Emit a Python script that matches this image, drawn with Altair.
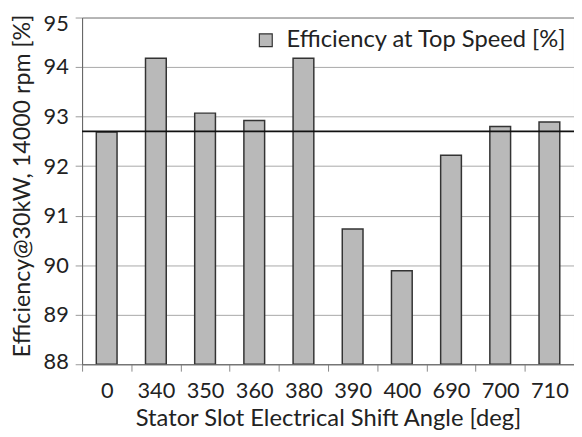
import altair as alt
import pandas as pd

angles = ["0", "340", "350", "360", "380", "390", "400", "690", "700", "710"]
efficiency = [92.69, 94.18, 93.07, 92.92, 94.18, 90.73, 89.89, 92.22, 92.80, 92.89]
baseline = [92.7]
series_name = "Efficiency at Top Speed [%]"

df = pd.DataFrame({"angle": angles, "eff": efficiency, "series": series_name})
ref = pd.DataFrame({"y": baseline})

FONT = "Lato"

bars = alt.Chart(df).mark_bar(
    stroke="#333333", strokeWidth=1.5, width=21, clip=True
).encode(
    x=alt.X("angle:N", sort=angles,
            scale=alt.Scale(paddingInner=0, paddingOuter=0),
            axis=alt.Axis(title="Stator Slot Electrical Shift Angle [deg]",
                          labelAngle=0, tickBand="extent", tickSize=7,
                          tickColor="#888888", domainColor="#666666",
                          labelPadding=10, titlePadding=5, titleFontSize=24)),
    y=alt.Y("eff:Q", scale=alt.Scale(domain=[88, 95], nice=False, zero=False),
            axis=alt.Axis(title="Efficiency@30kW, 14000 rpm [%]",
                          values=[88, 89, 90, 91, 92, 93, 94, 95],
                          labelOffset=alt.expr("datum.value == 95 ? 6 : (datum.value == 88 ? -3 : 0)"),
                          tickSize=7, tickColor="#999999", domainColor="#666666",
                          gridColor="#a8a8a8", labelPadding=7, titlePadding=9,
                          titleFontSize=23.5, titleY=170)),
    y2=alt.datum(88),
    color=alt.Color("series:N",
                    scale=alt.Scale(range=["#b9b9b9"]),
                    legend=alt.Legend(title=None, orient="none",
                                      legendX=174, legendY=11,
                                      symbolType="square", symbolSize=170,
                                      symbolStrokeColor="#333333",
                                      symbolStrokeWidth=1.2,
                                      symbolFillColor="#b9b9b9",
                                      labelFontSize=24, labelFont=FONT,
                                      labelLimit=500, labelOffset=9,
                                      labelColor="#222222")),
)

rule = alt.Chart(ref).mark_rule(color="#111111", strokeWidth=1.8).encode(y="y:Q")

chart = (bars + rule).properties(
    width=498, height=351,
    background="white",
    autosize=alt.AutoSizeParams(type="none"),
    padding={"left": 75, "top": 7, "right": 0, "bottom": 71},
).configure_view(
    stroke="#888888", strokeWidth=1
).configure_axis(
    labelFont=FONT, titleFont=FONT, labelFontSize=22, titleFontSize=22,
    titleFontWeight="normal", labelColor="#222222", titleColor="#222222",
)

chart.save("out.html", embed_options={"renderer": "svg", "actions": False})
